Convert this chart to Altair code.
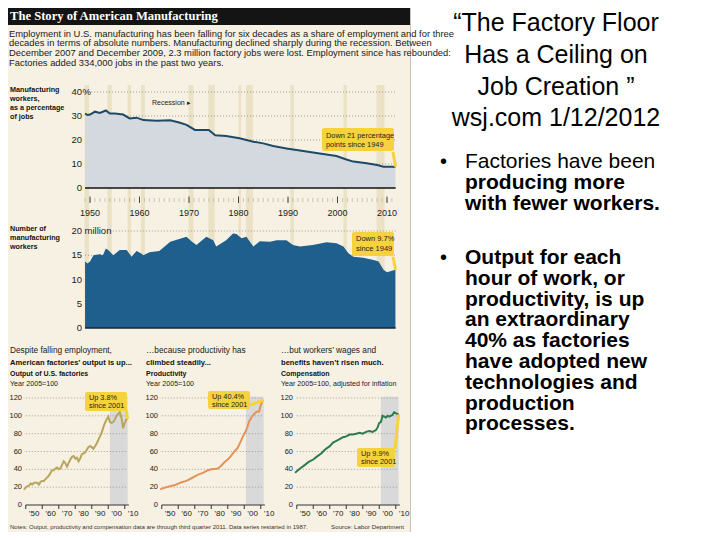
import altair as alt
import pandas as pd

# ---------------- texts ----------------
panel_title = "The Story of American Manufacturing"
intro_lines = [
    "Employment in U.S. manufacturing has been falling for six decades as a share of employment and for three",
    "decades in terms of absolute numbers. Manufacturing declined sharply during the recession. Between",
    "December 2007 and December 2009, 2.3 million factory jobs were lost. Employment since has rebounded:",
    "Factories added 334,000 jobs in the past two years.",
]
share_label = ["Manufacturing", "workers,", "as a percentage", "of jobs"]
count_label = ["Number of", "manufacturing", "workers"]
recession_label = "Recession \u25B8"
share_note = ["Down 21 percentage", "points since 1949"]
count_note = ["Down 9.7%", "since 1949"]

small_heads = [
    ["Despite falling employment,", "American factories\u2019 output is up...", "Output of U.S. factories", "Year 2005=100"],
    ["\u2026because productivity has", "climbed steadily...", "Productivity", "Year 2005=100"],
    ["\u2026but workers\u2019 wages and", "benefits haven\u2019t risen much.", "Compensation", "Year 2005=100, adjusted for inflation"],
]
small_notes = [["Up 3.8%", "since 2001"], ["Up 40.4%", "since 2001"], ["Up 9.9%", "since 2001"]]
notes_text = "Notes: Output, productivity and compensation data are through third quarter 2011. Data series restarted in 1987."
source_text = "Source: Labor Department"

slide_title = ["\u201cThe Factory Floor", "Has a Ceiling on", "Job Creation \u201d", "wsj.com 1/12/2012"]
bullet1_first = "Factories have been"
bullet1_rest = ["producing more", "with fewer workers."]
bullet2 = ["Output for each", "hour of work, or", "productivity, is up", "an extraordinary",
           "40% as factories", "have adopted new", "technologies and", "production", "processes."]

# ---------------- data ----------------
share_years = [1949, 1949.5, 1950, 1951, 1952, 1953.2, 1954, 1955, 1956.7, 1958, 1959.4, 1960.8,
               1963.5, 1966.2, 1968.2, 1969.5, 1971.2, 1974.0, 1975.3, 1977.5, 1980.2, 1983, 1985,
               1987, 1989.7, 1992.4, 1996.4, 1999.8, 2001.8, 2003.2, 2005.9, 2008, 2009.3, 2011.7]
share_vals = [31.0, 30.4, 30.6, 31.8, 31.3, 32.3, 31.0, 31.0, 30.6, 29.0, 29.3, 28.3,
              28.0, 28.2, 27.2, 26.3, 24.2, 24.2, 22.0, 21.7, 20.7, 19.3, 18.6,
              17.5, 16.5, 15.6, 14.4, 13.3, 11.9, 11.0, 10.3, 9.6, 8.9, 8.9]

emp_years = [1949, 1949.5, 1950, 1950.7, 1952, 1952.6, 1953.2, 1953.8, 1954.7, 1956, 1957.4, 1958.4,
             1959.4, 1960.1, 1960.8, 1962, 1964, 1966.2, 1968.2, 1969.5, 1970.5, 1971.5, 1973.5,
             1974.9, 1975.5, 1977.5, 1978.9, 1979.6, 1980.6, 1981.6, 1983, 1984.3, 1986.4, 1987.7,
             1989.7, 1991, 1992.4, 1995, 1997.8, 1999.8, 2001.2, 2002.2, 2003.2, 2005.2, 2007.3,
             2008.3, 2009.3, 2010, 2011, 2011.7]
emp_vals = [13.7, 13.3, 13.7, 15.0, 15.2, 15.0, 16.4, 16.0, 15.0, 16.1, 16.1, 14.7,
            15.9, 15.5, 15.0, 15.6, 15.9, 17.8, 18.4, 18.8, 17.9, 17.1, 18.8,
            18.1, 16.8, 18.1, 19.5, 19.4, 18.5, 18.8, 16.8, 17.9, 17.8, 18.1,
            18.1, 17.1, 16.8, 17.1, 17.7, 17.5, 16.8, 15.4, 14.7, 14.5, 14.0,
            13.7, 12.0, 11.5, 11.8, 12.0]

rec_start = [1948.9, 1953.5, 1957.6, 1960.3, 1969.9, 1973.9, 1980.0, 1981.5, 1990.5, 2001.2, 2007.9]
rec_end = [1949.8, 1954.4, 1958.3, 1961.1, 1970.9, 1975.2, 1980.5, 1982.9, 1991.2, 2001.9, 2009.5]

decade_years = [1950, 1960, 1970, 1980, 1990, 2000, 2010]
year_ticks = list(range(1949, 2012))
share_ticks = [0, 10, 20, 30, 40]
count_ticks = [0, 5, 10, 15, 20]

output_years = [1949, 1950, 1951, 1952, 1953, 1954, 1955, 1956, 1957, 1958, 1959, 1960, 1961, 1962,
                1963, 1964, 1965, 1966, 1967, 1968, 1969, 1970, 1971, 1972, 1973, 1974, 1975, 1976,
                1977, 1978, 1979, 1980, 1981, 1982, 1983, 1984, 1985, 1986, 1987, 1988, 1989, 1990,
                1991, 1992, 1993, 1994, 1995, 1996, 1997, 1998, 1999, 2000, 2001, 2002, 2003, 2004,
                2005, 2006, 2007, 2008, 2009, 2010, 2011, 2011.75]
output_vals = [17, 20, 21, 22, 24, 23, 25, 25, 25, 23, 26, 27, 27, 29,
               31, 33, 36, 39, 39, 41, 42, 40, 41, 45, 49, 47, 43, 47,
               51, 54, 55, 52, 53, 49, 52, 57, 58, 59, 62, 65, 66, 65,
               63, 66, 69, 73, 77, 81, 87, 92, 96, 99, 93, 92, 93, 96,
               100, 102, 104, 98, 86, 92, 96, 96.5]

prod_years = [1949, 1952, 1955, 1958, 1960, 1962, 1965, 1968, 1970, 1972, 1975, 1978, 1980, 1982,
              1984, 1986, 1988, 1990, 1992, 1994, 1996, 1998, 2000, 2001, 2002, 2003, 2004, 2005,
              2006, 2007, 2008, 2009, 2010, 2011, 2011.75]
prod_vals = [17.5, 19.5, 21, 22.5, 24, 25.5, 27, 30, 32, 34, 36, 39, 40, 40.5,
             41, 44, 48, 51, 55, 60, 64, 72, 80, 83, 88, 94, 97, 100,
             102, 104, 105, 105, 112, 116, 117.5]

comp_years = [1949, 1950, 1952, 1955, 1957, 1960, 1962, 1965, 1967, 1970, 1972, 1974, 1976, 1978,
              1980, 1982, 1984, 1986, 1988, 1990, 1992, 1994, 1996, 1998, 1999, 2000, 2001, 2002,
              2003, 2004, 2005, 2006, 2007, 2008, 2009, 2010, 2011, 2011.75]
comp_vals = [36, 38, 41, 45, 48, 51, 54, 58, 62, 66, 70, 72, 74, 76,
             77, 79, 79, 80, 81, 80, 82, 83, 82, 84, 87, 92, 93, 100,
             99, 98, 100, 99, 100, 101, 104, 103, 102, 101.5]

small_ticks = [0, 20, 40, 60, 80, 100, 120]
small_decades = [1950, 1960, 1970, 1980, 1990, 2000, 2010]
small_label_years = [1955, 1965, 1975, 1985, 1995, 2005, 2015]
small_labels = ["\u201950", "\u201960", "\u201970", "\u201980", "\u201990", "\u201900", "\u201910"]

# ---------------- styles ----------------
W, H = 704, 524
NARROW = "Liberation Sans"
ARIAL = "Liberation Sans"
SERIF = "Liberation Serif"
CREAM = "#f6f1e3"
BAND = "#ebe1c5"
HEADER = "#141414"
AREA1 = "#d3d9de"
LINE1 = "#1d4a66"
AREA2 = "#1f5f8d"
YELLOW = "#f6d33c"
GRAYBAND = "#d9d9d9"
SMALL_COLORS = ["#b9a55b", "#e3935a", "#2f7b50"]
SMALL_OFF = [0, 136, 271]


def one():
    return pd.DataFrame({"k": [0]})


def txt(t, x, y, size, font=NARROW, weight="normal", color="#222", align="left",
        baseline="alphabetic", lh=None):
    kw = dict(align=align, baseline=baseline, font=font, fontSize=size,
              fontWeight=weight, color=color)
    if lh:
        kw["lineHeight"] = lh
    return alt.Chart(one()).mark_text(**kw).encode(
        x=alt.value(x), y=alt.value(y), text=alt.value(t))


def box(x0, x1, y0, y1, color=YELLOW, r=2):
    return alt.Chart(one()).mark_rect(color=color, cornerRadius=r).encode(
        x=alt.value(x0), x2=alt.value(x1), y=alt.value(y0), y2=alt.value(y1))


def sx_big():
    return alt.Scale(domain=[1948, 2012], range=[72.1, 388.9], nice=False, zero=False)


def sy_share():
    return alt.Scale(domain=[0, 40], range=[180, 84], nice=False, zero=False)


def sy_count():
    return alt.Scale(domain=[0, 20], range=[320, 223], nice=False, zero=False)


def sx_small(off):
    return alt.Scale(domain=[1945, 2020], range=[9.5 + off, 133.25 + off], nice=False, zero=False)


def sy_small():
    return alt.Scale(domain=[0, 120], range=[497, 390], nice=False, zero=False)


layers = []
add = layers.append

# ---------- panel backgrounds ----------
add(box(0, 402, 0, H, CREAM, 0))
add(box(0, 402, 0, 17, HEADER, 0))
add(alt.Chart(one()).mark_rule(color="#c8c2b4").encode(x=alt.value(402.5), y=alt.value(0), y2=alt.value(H)))
add(txt(panel_title, 2, 12, 12.6, font=SERIF, weight="bold", color="white"))
add(txt(intro_lines, 1, 28.7, 9.4, lh=9.7, color="#1a1a1a"))

# ---------- recession bands ----------
rec_df = pd.DataFrame({"s": rec_start, "e": rec_end})
add(alt.Chart(rec_df).mark_rect(color=BAND).encode(
    x=alt.X("s:Q", scale=sx_big(), axis=None), x2="e:Q",
    y=alt.value(77), y2=alt.value(320)))

# ---------- chart 1: share of jobs ----------
add(alt.Chart(pd.DataFrame({"v": share_ticks[1:]})).mark_rule(
    color="#8c8c8c", strokeDash=[1, 2], strokeWidth=0.8).encode(
    x=alt.XDatum(1949, type="quantitative", scale=sx_big(), axis=None),
    x2=alt.X2Datum(2011.75),
    y=alt.Y("v:Q", scale=sy_share(), axis=None)))
share_df = pd.DataFrame({"year": share_years, "v": share_vals})
add(alt.Chart(share_df).mark_area(color=AREA1).encode(
    x=alt.X("year:Q", scale=sx_big(), axis=None),
    y=alt.Y("v:Q", scale=sy_share(), axis=None)))
add(alt.Chart(share_df).mark_line(color=LINE1, strokeWidth=2).encode(
    x=alt.X("year:Q", scale=sx_big(), axis=None),
    y=alt.Y("v:Q", scale=sy_share(), axis=None)))
add(alt.Chart(one()).mark_rule(color="#111", strokeWidth=1.5).encode(
    x=alt.XDatum(1949, type="quantitative", scale=sx_big(), axis=None),
    x2=alt.X2Datum(2011.75),
    y=alt.YDatum(0, type="quantitative", scale=sy_share(), axis=None)))
add(alt.Chart(pd.DataFrame({"year": year_ticks})).mark_rule(color="#a8a8a8", strokeWidth=0.6).encode(
    x=alt.X("year:Q", scale=sx_big(), axis=None), y=alt.value(190), y2=alt.value(194)))
add(alt.Chart(pd.DataFrame({"year": decade_years})).mark_rule(color="#444", strokeWidth=1).encode(
    x=alt.X("year:Q", scale=sx_big(), axis=None), y=alt.value(188.5), y2=alt.value(195)))
add(alt.Chart(pd.DataFrame({"year": decade_years, "lab": [str(y) for y in decade_years]})).mark_text(
    font=NARROW, fontSize=9, color="#222", baseline="middle").encode(
    x=alt.X("year:Q", scale=sx_big(), axis=None), y=alt.value(205), text="lab:N"))
add(alt.Chart(pd.DataFrame({"v": share_ticks, "lab": [str(v) for v in share_ticks]})).mark_text(
    font=NARROW, fontSize=9.5, color="#222", align="right", baseline="middle").encode(
    x=alt.value(74), y=alt.Y("v:Q", scale=sy_share(), axis=None), text="lab:N"))
add(alt.Chart(one()).mark_text(font=NARROW, fontSize=9.5, color="#222", align="left", baseline="middle").encode(
    x=alt.value(74.5), y=alt.YDatum(40, type="quantitative", scale=sy_share(), axis=None), text=alt.value("%")))
add(txt(recession_label, 144, 97, 7))
add(txt(share_label, 2, 84, 7.2, weight="bold", lh=9, color="#111"))
# callout 1
add(alt.Chart(pd.DataFrame({"x0": [2011.2], "x1": [2011.75], "y0": [15.0], "y1": [8.9]})).mark_rule(
    color=YELLOW, strokeWidth=3).encode(
    x=alt.X("x0:Q", scale=sx_big(), axis=None), x2="x1:Q",
    y=alt.Y("y0:Q", scale=sy_share(), axis=None), y2="y1:Q"))
add(box(314, 386, 120, 143))
add(txt(share_note, 318, 129.5, 7.4, lh=9.5, color="#222"))

# ---------- chart 2: number of workers ----------
add(alt.Chart(pd.DataFrame({"v": count_ticks[1:4]})).mark_rule(
    color="#8c8c8c", strokeDash=[1, 2], strokeWidth=0.8).encode(
    x=alt.XDatum(1949, type="quantitative", scale=sx_big(), axis=None),
    x2=alt.X2Datum(2011.75),
    y=alt.Y("v:Q", scale=sy_count(), axis=None)))
add(alt.Chart(one()).mark_rule(color="#8c8c8c", strokeDash=[1, 2], strokeWidth=0.8).encode(
    x=alt.XDatum(1954.0, type="quantitative", scale=sx_big(), axis=None),
    x2=alt.X2Datum(2011.75),
    y=alt.YDatum(20, type="quantitative", scale=sy_count(), axis=None)))
emp_df = pd.DataFrame({"year": emp_years, "v": emp_vals})
add(alt.Chart(emp_df).mark_area(color=AREA2).encode(
    x=alt.X("year:Q", scale=sx_big(), axis=None),
    y=alt.Y("v:Q", scale=sy_count(), axis=None)))
add(alt.Chart(one()).mark_rule(color="#10283a", strokeWidth=1.5).encode(
    x=alt.XDatum(1949, type="quantitative", scale=sx_big(), axis=None),
    x2=alt.X2Datum(2011.75),
    y=alt.YDatum(0, type="quantitative", scale=sy_count(), axis=None)))
add(alt.Chart(pd.DataFrame({"v": count_ticks, "lab": [str(v) for v in count_ticks]})).mark_text(
    font=NARROW, fontSize=9.5, color="#222", align="right", baseline="middle").encode(
    x=alt.value(74), y=alt.Y("v:Q", scale=sy_count(), axis=None), text="lab:N"))
add(alt.Chart(one()).mark_text(font=NARROW, fontSize=9.5, color="#222", align="left", baseline="middle").encode(
    x=alt.value(76.5), y=alt.YDatum(20, type="quantitative", scale=sy_count(), axis=None), text=alt.value("million")))
add(txt(count_label, 2, 223, 7.2, weight="bold", lh=9, color="#111"))
add(alt.Chart(pd.DataFrame({"x0": [2011.2], "x1": [2011.75], "y0": [14.7], "y1": [12.0]})).mark_rule(
    color=YELLOW, strokeWidth=3).encode(
    x=alt.X("x0:Q", scale=sx_big(), axis=None), x2="x1:Q",
    y=alt.Y("y0:Q", scale=sy_count(), axis=None), y2="y1:Q"))
add(box(344, 386, 224, 248))
add(txt(count_note, 348, 233, 7.5, lh=9.5, color="#222"))

# ---------- small charts ----------
small_series = [(output_years, output_vals), (prod_years, prod_vals), (comp_years, comp_vals)]
small_boxes = [(77, 119, 384, 403), (200, 242, 383, 401), (349, 387, 440, 459)]
small_tails = [(2011.0, 106, 2011.75, 96.5), (2003.0, 112, 2011.75, 117.5), (2009.5, 63, 2011.75, 101.5)]

for k in range(3):
    off = SMALL_OFF[k]
    sx = lambda: sx_small(off)
    heads = small_heads[k]
    add(txt(heads[0], 2 + off, 345, 8.3, color="#1a1a1a"))
    add(txt(heads[1], 2 + off, 356.5, 7.6, weight="bold", color="#111"))
    add(txt(heads[2], 2 + off, 367.5, 7, weight="bold", color="#111"))
    add(txt(heads[3], 2 + off, 377.5, 7.1, color="#222"))
    # shaded period since 2001
    add(alt.Chart(one()).mark_rect(color=GRAYBAND).encode(
        x=alt.XDatum(2001, type="quantitative", scale=sx(), axis=None), x2=alt.X2Datum(2011.75),
        y=alt.YDatum(0, type="quantitative", scale=sy_small(), axis=None), y2=alt.Y2Datum(121.5)))
    add(alt.Chart(pd.DataFrame({"v": small_ticks[1:]})).mark_rule(
        color="#8c8c8c", strokeDash=[1, 2], strokeWidth=0.8).encode(
        x=alt.XDatum(1950, type="quantitative", scale=sx(), axis=None), x2=alt.X2Datum(2011.75),
        y=alt.Y("v:Q", scale=sy_small(), axis=None)))
    add(alt.Chart(one()).mark_rule(color="#333", strokeWidth=1).encode(
        x=alt.XDatum(1950, type="quantitative", scale=sx(), axis=None), x2=alt.X2Datum(2012.5),
        y=alt.YDatum(0, type="quantitative", scale=sy_small(), axis=None)))
    add(alt.Chart(pd.DataFrame({"year": small_decades})).mark_rule(color="#333", strokeWidth=1).encode(
        x=alt.X("year:Q", scale=sx(), axis=None), y=alt.value(497), y2=alt.value(501)))
    add(alt.Chart(pd.DataFrame({"year": small_label_years, "lab": small_labels})).mark_text(
        font=NARROW, fontSize=8, color="#222", baseline="middle").encode(
        x=alt.X("year:Q", scale=sx(), axis=None), y=alt.value(505.5), text="lab:N"))
    add(alt.Chart(pd.DataFrame({"v": small_ticks, "lab": [str(v) for v in small_ticks]})).mark_text(
        font=NARROW, fontSize=7.5, color="#222", align="right", baseline="middle").encode(
        x=alt.value(14 + off), y=alt.Y("v:Q", scale=sy_small(), axis=None), text="lab:N"))
    yrs, vals = small_series[k]
    add(alt.Chart(pd.DataFrame({"year": yrs, "v": vals})).mark_line(
        color=SMALL_COLORS[k], strokeWidth=2).encode(
        x=alt.X("year:Q", scale=sx(), axis=None), y=alt.Y("v:Q", scale=sy_small(), axis=None)))
    tx0, ty0, tx1, ty1 = small_tails[k]
    add(alt.Chart(pd.DataFrame({"x0": [tx0], "x1": [tx1], "y0": [ty0], "y1": [ty1]})).mark_rule(
        color=YELLOW, strokeWidth=3).encode(
        x=alt.X("x0:Q", scale=sx(), axis=None), x2="x1:Q",
        y=alt.Y("y0:Q", scale=sy_small(), axis=None), y2="y1:Q"))
    bx0, bx1, by0, by1 = small_boxes[k]
    add(box(bx0, bx1, by0, by1))
    add(txt(small_notes[k], bx0 + 4, by0 + 8, 7.3, lh=8, color="#222"))

add(txt(notes_text, 2, 521, 6, color="#333"))
add(txt(source_text, 396, 521, 6.2, color="#333", align="right"))

# ---------- right side slide text ----------
add(txt(slide_title, 548, 23, 25, font=ARIAL, color="#000", align="center", lh=31.8))
add(txt("\u2022", 432, 160.3, 20, font=ARIAL, color="#000"))
add(txt(bullet1_first, 457, 160.3, 21, font=ARIAL, color="#000"))
add(txt(bullet1_rest, 457, 181.1, 21, font=ARIAL, weight="bold", color="#000", lh=20.8))
add(txt("\u2022", 432, 256, 20, font=ARIAL, color="#000"))
add(txt(bullet2, 457, 256, 21, font=ARIAL, weight="bold", color="#000", lh=20.8))

chart = alt.layer(*layers).resolve_scale(x="independent", y="independent").properties(
    width=W, height=H, autosize=alt.AutoSizeParams(type="none"), padding=0,
    background="white").configure_view(stroke=None)

chart.save("out.html", embed_options={"renderer": "svg", "actions": False})
